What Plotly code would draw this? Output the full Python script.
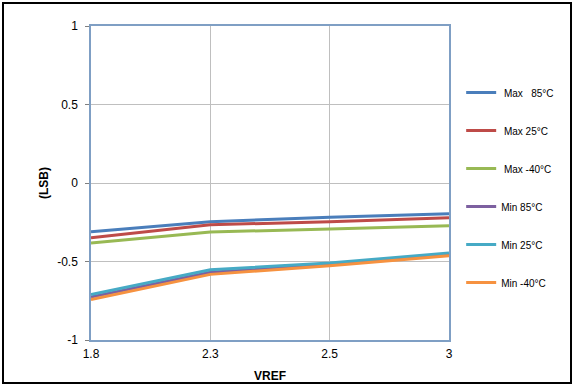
import plotly.graph_objects as go

vref = ["1.8", "2.3", "2.5", "3"]
max_85 = [-0.311, -0.247, -0.218, -0.196]
max_25 = [-0.348, -0.266, -0.247, -0.221]
max_m40 = [-0.382, -0.312, -0.293, -0.272]
min_85 = [-0.726, -0.569, -0.52, -0.457]
min_25 = [-0.711, -0.552, -0.510, -0.446]
min_m40 = [-0.743, -0.582, -0.527, -0.463]

series = [
    ("\u00a0Max\u00a0\u00a0\u00a085°C", max_85, "#4a7ebb"),
    ("\u00a0Max 25°C", max_25, "#be4b48"),
    ("\u00a0Max -40°C", max_m40, "#98b954"),
    ("Min 85°C", min_85, "#7d60a0"),
    ("Min 25°C", min_25, "#46aac5"),
    ("Min -40°C", min_m40, "#f69240"),
]

fig = go.Figure()
for i, (name, vals, col) in enumerate(series):
    fig.add_trace(go.Scatter(x=vref, y=vals, mode="lines", name=name,
                             legendgroup=str(i),
                             line=dict(color=col, width=3)))

axis_color = "#7f9fc4"
fig.update_layout(
    width=574, height=386,
    margin=dict(l=91, r=125, t=26, b=46, autoexpand=False),
    paper_bgcolor="white", plot_bgcolor="white",
    font=dict(family="Arial, Liberation Sans", size=12, color="black"),
    showlegend=True,
    legend=dict(x=1.034, y=0.834, xanchor="left", yanchor="top",
                font=dict(size=10), tracegroupgap=19, itemwidth=30,
                bgcolor="rgba(0,0,0,0)"),
    xaxis=dict(type="category", range=[0, 3], showgrid=True, gridcolor="#bfbfbf",
               gridwidth=1, showline=True, linecolor=axis_color, linewidth=1.5,
               mirror=True, ticks="", tickfont=dict(size=12), ticklabelstandoff=2,
               title=dict(text="<b>VREF</b>", font=dict(size=12), standoff=11),
               automargin=False),
    yaxis=dict(range=[-1, 1], tickvals=[-1, -0.5, 0, 0.5, 1],
               ticktext=["-1", "-0.5", "0", "0.5", "1"],
               showgrid=True, gridcolor="#bfbfbf", gridwidth=1,
               showline=True, linecolor=axis_color, linewidth=1.5, mirror=True,
               ticks="outside", ticklen=4, tickcolor="#7f7f7f",
               zeroline=False, tickfont=dict(size=12), ticklabelstandoff=5,
               title=dict(text="<b>(LSB)</b>", font=dict(size=12), standoff=6),
               automargin=False),
    shapes=[dict(type="rect", xref="paper", yref="paper",
                 x0=-0.2458, x1=1.3408, y0=-0.1369, y1=1.0732,
                 line=dict(color="black", width=2), layer="above")],
)

fig.write_html("out.html", config={"displayModeBar": False},
               post_script="document.body.style.margin='0';")
